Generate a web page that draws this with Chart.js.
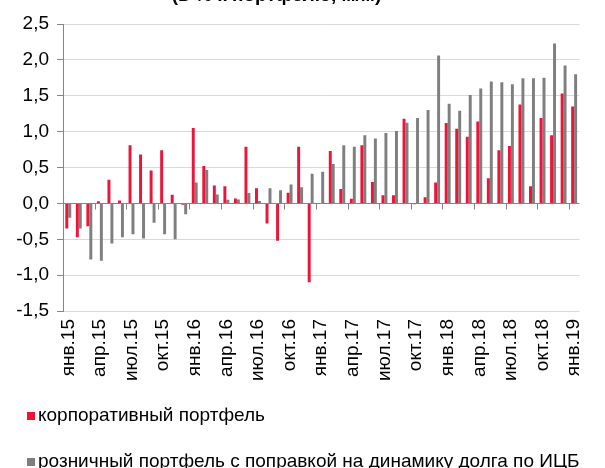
<!DOCTYPE html>
<html>
<head>
<meta charset="utf-8">
<script src="https://cdn.jsdelivr.net/npm/chart.js"></script>
<style>
  html, body { margin:0; padding:0; background:#fff; }
  #wrap { position:relative; width:605px; height:468px; overflow:hidden; font-family:"Liberation Sans", Arial, sans-serif; }
  #title { position:absolute; top:-16px; left:143px; width:267px; text-align:center; white-space:nowrap; font-weight:bold; font-size:19px; color:#000; }
  .leg { position:absolute; left:27px; font-size:19px; color:#000; white-space:nowrap; line-height:22px; }
  .leg i { display:inline-block; width:8px; height:8px; margin-right:3px; vertical-align:1px; }
  canvas { position:absolute; left:0; top:0; }
</style>
</head>
<body>
<div id="wrap">
  <canvas id="c" width="605" height="468"></canvas>
  <div id="title">(в % к портфелю, м/м)</div>
  <div class="leg" id="leg1" style="top:404px"><i style="background:#EC1439"></i>корпоративный портфель</div>
  <div class="leg" id="leg2" style="top:450px"><i style="background:#7F7F7F"></i>розничный портфель с поправкой на динамику долга по ИЦБ</div>
</div>
<script>
const months = [
  "янв.15","фев.15","мар.15","апр.15","май.15","июн.15","июл.15","авг.15","сен.15","окт.15","ноя.15","дек.15",
  "янв.16","фев.16","мар.16","апр.16","май.16","июн.16","июл.16","авг.16","сен.16","окт.16","ноя.16","дек.16",
  "янв.17","фев.17","мар.17","апр.17","май.17","июн.17","июл.17","авг.17","сен.17","окт.17","ноя.17","дек.17",
  "янв.18","фев.18","мар.18","апр.18","май.18","июн.18","июл.18","авг.18","сен.18","окт.18","ноя.18","дек.18",
  "янв.19"
];
const corporate = [
  -0.35,-0.47,-0.32,0.03,0.33,0.04,0.81,0.68,0.46,0.74,0.12,-0.02,
  1.05,0.52,0.25,0.24,0.07,0.79,0.21,-0.28,-0.52,0.15,0.79,-1.10,
  0.00,0.73,0.20,0.065,0.81,0.30,0.115,0.115,1.18,-0.01,0.085,0.29,
  1.12,1.04,0.93,1.14,0.35,0.74,0.80,1.38,0.24,1.19,0.95,1.53,
  1.35
];
const retail = [
  -0.20,-0.35,-0.78,-0.80,-0.56,-0.47,-0.43,-0.49,-0.27,-0.43,-0.50,-0.15,
  0.29,0.465,0.125,0.05,0.056,0.144,0.035,0.21,0.185,0.265,0.225,0.415,
  0.44,0.55,0.81,0.79,0.95,0.905,0.98,1.01,1.125,1.19,1.30,2.06,
  1.39,1.29,1.51,1.60,1.70,1.69,1.66,1.745,1.745,1.75,2.23,1.92,
  1.80
];
const seriesNames = ["корпоративный портфель", "розничный портфель с поправкой на динамику долга по ИЦБ"];
const labelEvery = 3;

const FONT = "'Liberation Sans', Arial, sans-serif";

const zeroAxisPlugin = {
  id: 'zeroAxis',
  beforeDatasetsDraw(chart) {
    const {ctx, scales: {x, y}, chartArea} = chart;
    const y0 = Math.round(y.getPixelForValue(0)) + 0.5;
    ctx.save();
    ctx.strokeStyle = '#858585';
    ctx.lineWidth = 1;
    ctx.beginPath();
    ctx.moveTo(chartArea.left, y0);
    ctx.lineTo(chartArea.right, y0);
    for (let k = labelEvery; k <= months.length; k += labelEvery) {
      let px;
      if (k < months.length) px = (x.getPixelForValue(k - 1) + x.getPixelForValue(k)) / 2;
      else px = chartArea.right;
      px = Math.round(px) + 0.5;
      ctx.moveTo(px, y0);
      ctx.lineTo(px, y0 + 6);
    }
    ctx.stroke();
    ctx.restore();
  }
};

new Chart(document.getElementById('c'), {
  type: 'bar',
  data: {
    labels: months,
    datasets: [
      { label: seriesNames[0], data: corporate, backgroundColor: '#EC1439', categoryPercentage: 0.56, barPercentage: 1.0 },
      { label: seriesNames[1], data: retail, backgroundColor: '#7F7F7F', categoryPercentage: 0.56, barPercentage: 1.0 }
    ]
  },
  options: {
    responsive: false,
    animation: false,
    devicePixelRatio: 1,
    layout: { padding: { left: 5, right: 6, top: 24, bottom: 79 } },
    plugins: { legend: { display: false }, tooltip: { enabled: false }, title: { display: false } },
    scales: {
      x: {
        offset: true,
        grid: { display: false, drawTicks: false },
        border: { display: false },
        ticks: {
          autoSkip: false,
          maxRotation: 90, minRotation: 90,
          padding: 8,
          color: '#000',
          font: { family: FONT, size: 19 },
          callback: (v, i) => (i % labelEvery === 0 ? months[i] : '')
        }
      },
      y: {
        min: -1.5, max: 2.5,
        afterFit: (s) => { s.width = 58; },
        ticks: {
          stepSize: 0.5,
          padding: 8,
          color: '#000',
          font: { family: FONT, size: 19 },
          callback: (v) => v.toFixed(1).replace('.', ',')
        },
        grid: {
          color: (c) => (c.tick && c.tick.value === 0 ? 'rgba(0,0,0,0)' : '#D9D9D9'),
          lineWidth: 1,
          tickColor: '#858585',
          tickLength: 6
        },
        border: { display: true, color: '#858585', width: 1 }
      }
    }
  },
  plugins: [zeroAxisPlugin]
});
</script>
</body>
</html>
